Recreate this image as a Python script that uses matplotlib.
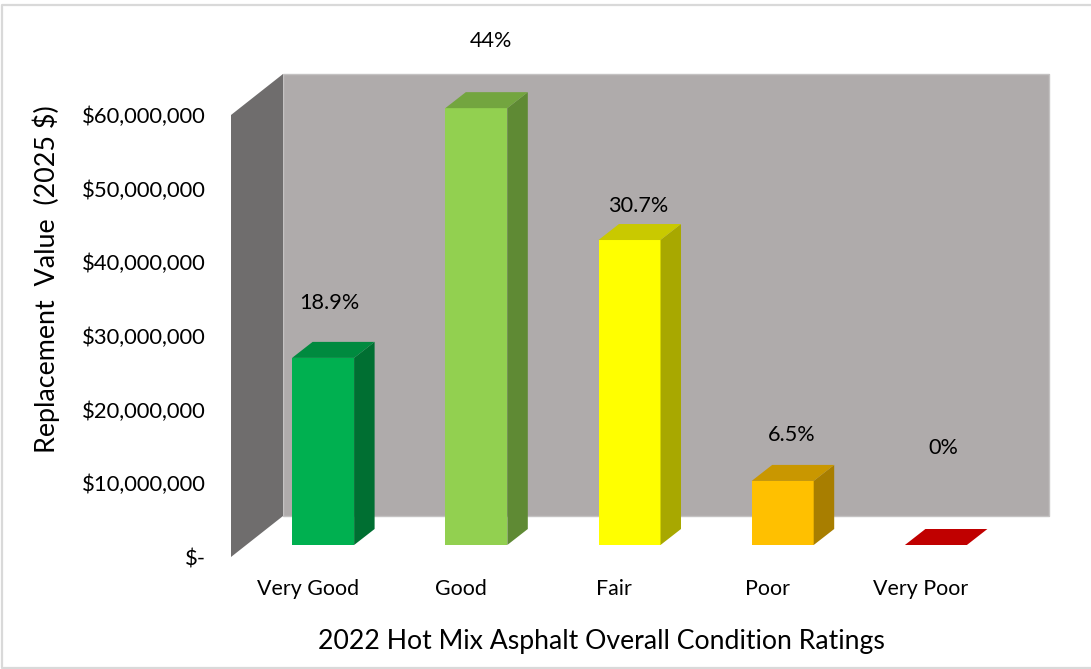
import matplotlib
matplotlib.use("Agg")
import matplotlib.pyplot as plt
from matplotlib.lines import Line2D
from matplotlib.patches import Polygon

categories = ["Very Good", "Good", "Fair", "Poor", "Very Poor"]
values = [25400000, 59300000, 41400000, 8700000, 0]
pct_labels = ["18.9%", "44%", "30.7%", "6.5%", "0%"]
front_colors = ["#00B050", "#92D050", "#FFFF00", "#FFC000", "#C00000"]
top_colors = ["#008A3F", "#73A53F", "#C9C900", "#C99700", "#C00000"]
side_colors = ["#006F32", "#5F8A34", "#A8A800", "#A87E00", "#A00000"]
yticks = [0, 10000000, 20000000, 30000000, 40000000, 50000000, 60000000]
ytick_labels = ["$-", "$10,000,000", "$20,000,000", "$30,000,000",
                "$40,000,000", "$50,000,000", "$60,000,000"]

W, H = 1091, 669
plt.rcParams["font.family"] = ["Lato", "DejaVu Sans"]
fig = plt.figure(figsize=(W / 100, H / 100), dpi=100, facecolor="white")
fig.add_artist(Line2D([W / W, 2 / W, 2 / W, W / W],
                      [1 - 5 / H, 1 - 5 / H, 1 - 668 / H, 1 - 668 / H],
                      transform=fig.transFigure, color="#D9D9D9", lw=1.6))

L, R, B, T = 231, 997, 557, 115
ax = fig.add_axes([L / W, 1 - B / H, (R - L) / W, (B - T) / H])
ax.set_xlim(0, 5)
ax.set_ylim(0, 60000000)
ax.patch.set_alpha(0)
for s in ax.spines.values():
    s.set_visible(False)
ax.tick_params(length=0)

px = 5 / (R - L)
py = 60000000 / (B - T)
DX, DY = 52 * px, 41 * py


def poly(pts, fc, ec="none", z=2, lw=0.6):
    ax.add_patch(Polygon(pts, closed=True, fc=fc, ec=ec, lw=lw, zorder=z, clip_on=False))


# walls
poly([(DX, DY), (5 + DX, DY), (5 + DX, 60000000 + DY), (DX, 60000000 + DY)], "#AFABAB",
     ec="#C4C2C2", z=1, lw=1)
poly([(0, 0), (DX, DY), (DX, 60000000 + DY), (0, 60000000)], "#6F6D6D", z=1)

# bars
x_off, y_off = 15.5 * px, 12 * py
half = 31 * px
bdx, bdy = 20.5 * px, 16 * py
for i, v in enumerate(values):
    cx = i + 0.5 + x_off
    x0, x1 = cx - half, cx + half
    y0, y1 = y_off, y_off + v
    if v > 0:
        poly([(x0, y0), (x1, y0), (x1, y1), (x0, y1)], front_colors[i], z=3)
        poly([(x1, y0), (x1 + bdx, y0 + bdy), (x1 + bdx, y1 + bdy), (x1, y1)], side_colors[i], z=3)
        poly([(x0, y1), (x1, y1), (x1 + bdx, y1 + bdy), (x0 + bdx, y1 + bdy)], top_colors[i], z=3)
    else:
        poly([(x0, y1), (x1, y1), (x1 + bdx, y1 + bdy), (x0 + bdx, y1 + bdy)], top_colors[i], z=3)

# percent labels, placed relative to each bar's top
label_rise = [55, 67, 34, 46, 97]
label_shift = [22, 30, 24, 24, 23]
for i, v in enumerate(values):
    cx = i + 0.5 + label_shift[i] * px
    ax.text(cx, y_off + v + label_rise[i] * py, pct_labels[i], ha="center", va="center",
            fontsize=15.6, color="black", clip_on=False)

ax.set_yticks(yticks)
ax.set_yticklabels(ytick_labels, fontsize=15.8)
ax.tick_params(axis="y", pad=18)
ax.set_xticks([i + 0.5 for i in range(5)])
ax.set_xticklabels(categories, fontsize=15.4)
ax.tick_params(axis="x", pad=16)

fig.text(46 / W, 1 - 279 / H, "Replacement  Value  (2025 $)", rotation=90,
         ha="center", va="center", fontsize=19.4)
fig.text(601 / W, 1 - 641 / H, "2022 Hot Mix Asphalt Overall Condition Ratings",
         ha="center", va="center", fontsize=19.15)

fig.savefig("out.png", dpi=100)
